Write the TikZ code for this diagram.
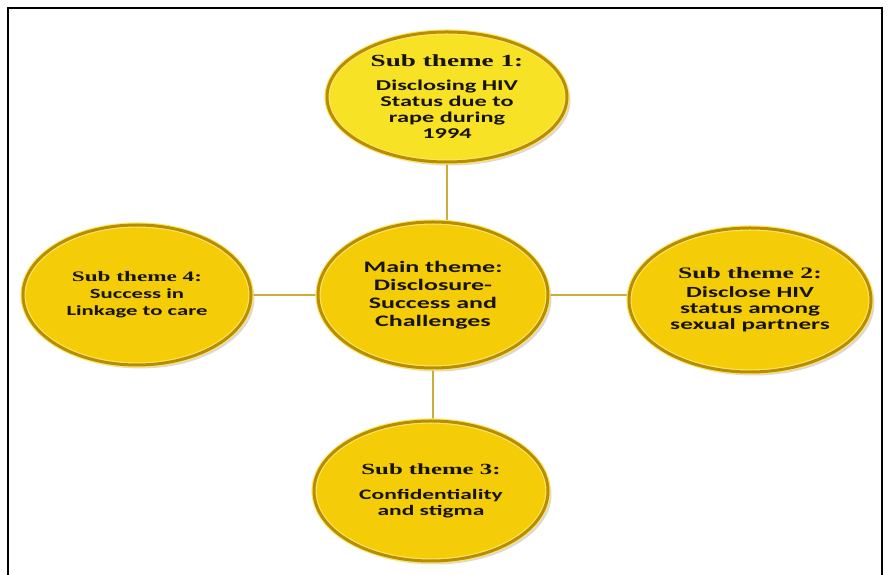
\documentclass[tikz,border=0pt]{standalone}
\usepackage{fontspec}
\usepackage{xcolor}
\usetikzlibrary{shapes.geometric, shadows, backgrounds}

\newfontfamily\bodyfont[FakeStretch=1.62]{Carlito}
\newfontfamily\headfont[FakeStretch=1.6]{Liberation Serif}

\definecolor{themefill}{HTML}{F4CC08}
\definecolor{topfill}{HTML}{F8E226}
\definecolor{rimdark}{HTML}{B88C04}
\definecolor{rimlight}{HTML}{FCE760}
\definecolor{linkgold}{HTML}{C9AE3C}
\definecolor{textdark}{HTML}{171400}

\begin{document}
\begin{tikzpicture}[
  x=1pt, y=1pt,
  theme/.style={ellipse, draw=rimlight, line width=1.1pt, double=rimdark,
                double distance=3pt, fill=themefill, inner sep=0pt,
                align=center, text=textdark,
                drop shadow={shadow xshift=3.5pt, shadow yshift=-3.5pt, opacity=0.3}},
  link/.style={draw=linkgold, line width=1.4pt},
  frame/.style={draw=black, line width=2pt}
]

\useasboundingbox (0,0) rectangle (889,575);

% ----- outer frame -----
\draw[frame] (8,0) -- (8,567) -- (882,567) -- (882,0);

% ----- main theme -----
\node[theme, minimum width=230pt, minimum height=146pt,
      font=\bodyfont\bfseries\fontsize{16}{18}\selectfont] (main) at (433,280)
  {Main theme:\\ Disclosure-\\ Success and\\ Challenges};

% ----- sub themes -----
\node[theme, fill=topfill, minimum width=240pt, minimum height=130pt,
      font=\bodyfont\bfseries\fontsize{15}{16.3}\selectfont] (st1) at (447,478)
  {{\headfont\bfseries\fontsize{17}{17}\selectfont Sub theme 1:}\\[7pt]
   Disclosing HIV\\ Status due to\\ rape during\\ 1994};

\node[theme, minimum width=242pt, minimum height=144pt,
      font=\bodyfont\bfseries\fontsize{15.5}{16}\selectfont] (st2) at (750,275)
  {{\headfont\bfseries\fontsize{16}{16}\selectfont Sub theme 2:}\\[3pt]
   Disclose HIV\\ status among\\ sexual partners};

\node[theme, minimum width=234pt, minimum height=140pt,
      font=\bodyfont\bfseries\fontsize{14.5}{16.5}\selectfont] (st3) at (431,84)
  {{\headfont\bfseries\fontsize{15.5}{15.5}\selectfont Sub theme 3:}\\[8pt]
   Confidentiality\\ and stigma};

\node[theme, minimum width=228pt, minimum height=140pt,
      font=\bodyfont\bfseries\fontsize{14}{17}\selectfont] (st4) at (137,280)
  {{\headfont\bfseries\fontsize{14.5}{14.5}\selectfont Sub theme 4:}\\
   Success in\\ Linkage to care};

% ----- connectors -----
\begin{scope}[on background layer]
\draw[link] (st1.center) -- (st1.center |- main.center);
\draw[link] (main.center) -- (main.center |- st3.center);
\draw[link] (st4.center) -- (main.center);
\draw[link] (main.center) -- (main.center -| st2.center);
\end{scope}

\end{tikzpicture}
\end{document}
